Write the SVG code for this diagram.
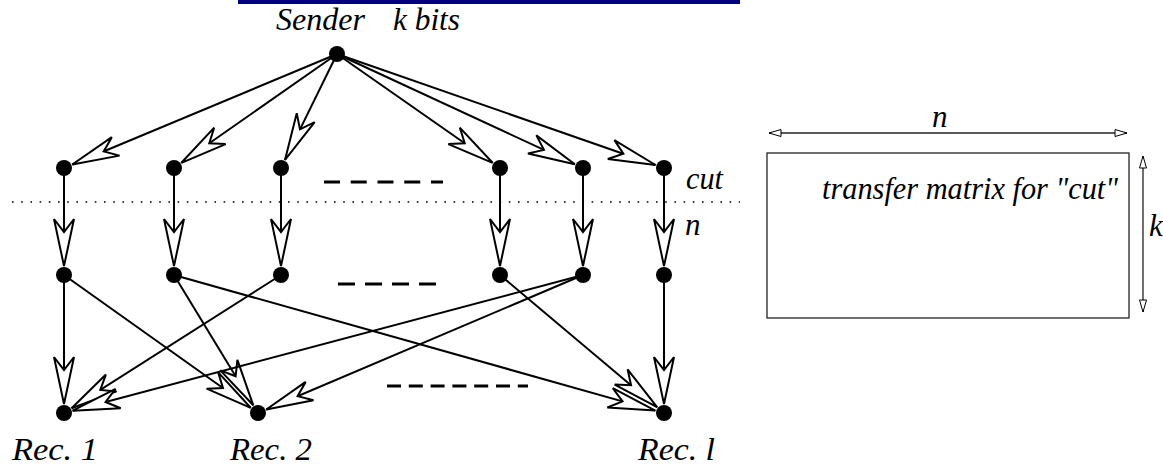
<svg xmlns="http://www.w3.org/2000/svg" width="1163" height="465" viewBox="0 0 1163 465">
<style>
.e{stroke:#000;stroke-width:2;fill:none;marker-end:url(#ah)}
.n{fill:#000}
.t{font-family:'Liberation Serif','Times New Roman',serif;font-style:italic;font-size:31px;fill:#000}
.dash{stroke:#000;stroke-width:3;fill:none}
.thin{stroke:#222;stroke-width:1.3;fill:none}
</style>
<defs>
<marker id="ah" markerUnits="userSpaceOnUse" markerWidth="60" markerHeight="30" viewBox="-52 -15 60 30" refX="0" refY="0" orient="auto">
<path d="M0,0 L-47,-10 L-34,0 L-47,10 Z" fill="#fff" stroke="#000" stroke-width="2"/>
</marker>
<marker id="sa" markerUnits="userSpaceOnUse" markerWidth="20" markerHeight="12" viewBox="-14 -6 20 12" refX="0" refY="0" orient="auto-start-reverse">
<path d="M0,0 L-12,-3.5 L-12,3.5 Z" fill="#fff" stroke="#000" stroke-width="1"/>
</marker>
</defs>
<rect x="238" y="0" width="502" height="4" fill="#000080"/>
<line x1="12" y1="202" x2="740" y2="202" stroke="#000" stroke-width="1.6" stroke-dasharray="1.6 7.6"/>
<g id="dashes">
<line class="dash" x1="324" y1="182" x2="443" y2="182" stroke-dasharray="16 10.75"/>
<line class="dash" x1="338" y1="284" x2="436" y2="284" stroke-dasharray="17 10"/>
<line class="dash" x1="387" y1="386" x2="528" y2="386" stroke-dasharray="14 7.8"/>
</g>
<g id="connectors">
<line class="e" x1="337" y1="54" x2="72.3" y2="164.5"/>
<line class="e" x1="337" y1="54" x2="181.4" y2="162.8"/>
<line class="e" x1="337" y1="54" x2="285" y2="159.9"/>
<line class="e" x1="337" y1="54" x2="492.6" y2="162.8"/>
<line class="e" x1="337" y1="54" x2="574.8" y2="164.2"/>
<line class="e" x1="337" y1="54" x2="655.5" y2="165"/>
<line class="e" x1="64" y1="168" x2="64" y2="266"/>
<line class="e" x1="174" y1="168" x2="174" y2="266"/>
<line class="e" x1="281" y1="168" x2="281" y2="266"/>
<line class="e" x1="500" y1="168" x2="500" y2="266"/>
<line class="e" x1="583" y1="168" x2="583" y2="266"/>
<line class="e" x1="664" y1="168" x2="664" y2="266"/>
<line class="e" x1="64" y1="275" x2="64" y2="404"/>
<line class="e" x1="64" y1="275" x2="250.7" y2="407.8"/>
<line class="e" x1="174" y1="275" x2="253.3" y2="405.3"/>
<line class="e" x1="174" y1="275" x2="655.3" y2="410.6"/>
<line class="e" x1="281" y1="275" x2="71.6" y2="408.2"/>
<line class="e" x1="500" y1="275" x2="657.1" y2="407.2"/>
<line class="e" x1="583" y1="275" x2="72.7" y2="410.7"/>
<line class="e" x1="583" y1="275" x2="266.3" y2="409.5"/>
<line class="e" x1="664" y1="275" x2="664" y2="404"/>
</g>
<g id="sender"><circle class="n" cx="337" cy="54" r="8"/><text class="t" x="276" y="30" textLength="89" lengthAdjust="spacingAndGlyphs">Sender</text><text class="t" x="393" y="30" textLength="67" lengthAdjust="spacingAndGlyphs">k bits</text></g>
<g id="a1"><circle class="n" cx="64" cy="168" r="8"/></g>
<g id="a2"><circle class="n" cx="174" cy="168" r="8"/></g>
<g id="a3"><circle class="n" cx="281" cy="168" r="8"/></g>
<g id="a4"><circle class="n" cx="500" cy="168" r="8"/></g>
<g id="a5"><circle class="n" cx="583" cy="168" r="8"/></g>
<g id="a6"><circle class="n" cx="664" cy="168" r="8"/></g>
<g id="b1"><circle class="n" cx="64" cy="275" r="8"/></g>
<g id="b2"><circle class="n" cx="174" cy="275" r="8"/></g>
<g id="b3"><circle class="n" cx="281" cy="275" r="8"/></g>
<g id="b4"><circle class="n" cx="500" cy="275" r="8"/></g>
<g id="b5"><circle class="n" cx="583" cy="275" r="8"/></g>
<g id="b6"><circle class="n" cx="664" cy="275" r="8"/></g>
<g id="rec1"><circle class="n" cx="64" cy="413" r="8"/><text class="t" x="12" y="460" textLength="86" lengthAdjust="spacingAndGlyphs">Rec. 1</text></g>
<g id="rec2"><circle class="n" cx="258" cy="413" r="8"/><text class="t" x="230" y="460" textLength="82" lengthAdjust="spacingAndGlyphs">Rec. 2</text></g>
<g id="recl"><circle class="n" cx="664" cy="413" r="8"/><text class="t" x="638" y="460" textLength="77" lengthAdjust="spacingAndGlyphs">Rec. l</text></g>
<g id="labels">
<text class="t" x="686" y="189" textLength="37" lengthAdjust="spacingAndGlyphs">cut</text>
<text class="t" x="685" y="235">n</text>
</g>
<g id="matrix">
<rect class="thin" x="767" y="153" width="362" height="165"/>
<line class="thin" x1="769" y1="133" x2="1127" y2="133" marker-start="url(#sa)" marker-end="url(#sa)"/>
<line class="thin" x1="1143" y1="156" x2="1143" y2="312" marker-start="url(#sa)" marker-end="url(#sa)"/>
<text class="t" x="932" y="127">n</text>
<text class="t" x="1149" y="236">k</text>
<text class="t" x="822" y="199" textLength="296" lengthAdjust="spacingAndGlyphs">transfer matrix for "cut"</text>
</g>
</svg>
